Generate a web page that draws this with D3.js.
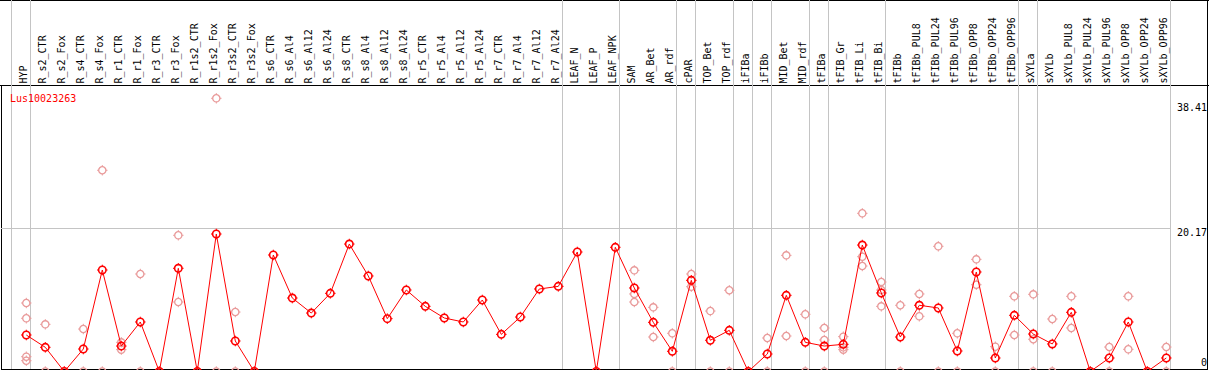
<!DOCTYPE html>
<html><head><meta charset="utf-8">
<script src="https://cdn.jsdelivr.net/npm/d3@7"></script>
<style>
html,body{margin:0;padding:0;background:#fff;}
svg{display:block;}
text{font-family:"DejaVu Sans Mono",monospace;font-size:10px;}
</style></head>
<body>
<script>
const geneName = "Lus10023263";
const categories = ["HYP","R_s2_CTR","R_s2_Fox","R_s4_CTR","R_s4_Fox","R_r1_CTR","R_r1_Fox","R_r3_CTR","R_r3_Fox","R_r1s2_CTR","R_r1s2_Fox","R_r3s2_CTR","R_r3s2_Fox","R_s6_CTR","R_s6_Al4","R_s6_Al12","R_s6_Al24","R_s8_CTR","R_s8_Al4","R_s8_Al12","R_s8_Al24","R_r5_CTR","R_r5_Al4","R_r5_Al12","R_r5_Al24","R_r7_CTR","R_r7_Al4","R_r7_Al12","R_r7_Al24","LEAF_N","LEAF_P","LEAF_NPK","SAM","AR_Bet","AR_rdf","cPAR","TOP_Bet","TOP_rdf","iFIBa","iFIBb","MID_Bet","MID_rdf","tFIBa","tFIB_Gr","tFIB_Li","tFIB_Bi","tFIBb","tFIBb_PUL8","tFIBb_PUL24","tFIBb_PUL96","tFIBb_OPP8","tFIBb_OPP24","tFIBb_OPP96","sXYLa","sXYLb","sXYLb_PUL8","sXYLb_PUL24","sXYLb_PUL96","sXYLb_OPP8","sXYLb_OPP24","sXYLb_OPP96"];
const means = [5.13,3.40,0,3.16,14.27,3.58,6.96,0,14.51,0,19.33,4.29,0,16.38,10.33,8.22,10.99,17.92,13.43,7.43,11.46,9.16,7.52,6.96,10.05,5.22,7.66,11.60,11.97,16.80,0,17.46,11.74,6.91,2.84,12.82,4.39,5.79,0,2.46,10.71,4.10,3.58,3.82,17.78,11.04,4.85,9.31,8.93,2.88,13.99,1.90,7.90,5.27,3.87,8.32,0,1.90,6.96,0,1.90];
const replicates = [[9.63,7.48,2.08,1.52],[6.63,0],[0],[5.97,0],[28.29,0],[4.10,3.07],[13.71,0],[0],[19.15,9.77],[0],[38.41,0],[8.36,0],[0],[],[],[],[],[],[],[],[],[],[],[],[],[],[],[],[],[],[],[],[14.22,10.9,9.77],[9.02,4.85],[5.37,0],[13.71,11.92],[8.5,0],[11.42,0],[0],[4.71,0],[16.33,4.99],[8.04,0],[6.12,4.43,0],[4.9,3.4,3.07],[22.24,16.14,14.83],[12.58,11.46,9.16],[9.31,0],[10.9,7.76],[17.6,0],[5.37,0],[15.77,12.2],[3.49,0],[10.57,5.13],[10.85,4.53,0],[7.38,0],[10.57,6.12],[0],[3.44,0],[10.57,3.12],[0],[3.44,0]];
const groupSizes = [1,28,3,3,1,2,1,1,2,1,3,7,1,7];
const yTicks = [0, 20.17, 38.41];

const W = 1209, H = 370;
const svg = d3.select("body").append("svg").attr("width", W).attr("height", H);

const x = d3.scaleBand().domain(categories).range([11, 11 + 19 * categories.length]).paddingInner(0).paddingOuter(0);
const px = c => x(c) + 15.3;
const y = d3.scaleLinear().domain([0, 38.41]).range([371.5, 98.3]);

// frame
svg.append("line").attr("x1",0).attr("x2",W).attr("y1",0.5).attr("y2",0.5).attr("stroke","#000");
svg.append("line").attr("x1",0).attr("x2",W).attr("y1",85.5).attr("y2",85.5).attr("stroke","#000");
svg.append("line").attr("x1",1.5).attr("x2",1.5).attr("y1",85).attr("y2",H).attr("stroke","#000");
svg.append("line").attr("x1",W-1.5).attr("x2",W-1.5).attr("y1",0).attr("y2",H).attr("stroke","#000");

// group separators
let acc = 0;
const seps = [0];
groupSizes.forEach(s => { acc += s; seps.push(acc); });
const sepX = i => (i < categories.length ? x(categories[i]) : x(categories[categories.length-1]) + x.bandwidth()) + 0.5;
svg.append("g").selectAll("line").data(seps).join("line")
  .attr("x1", sepX).attr("x2", sepX)
  .attr("y1", 0).attr("y2", H).attr("stroke", "#c4c4c4").attr("stroke-width", 1);

// horizontal grid at middle tick
svg.append("g").selectAll("line").data(yTicks.filter(v => v > 0 && v < 38.41)).join("line")
  .attr("x1", 1).attr("x2", x(categories[categories.length-1]) + x.bandwidth() + 1)
  .attr("y1", v => Math.round(y(v)) + 0.5).attr("y2", v => Math.round(y(v)) + 0.5)
  .attr("stroke", "#c4c4c4");

// bottom line
svg.append("line").attr("x1",1).attr("x2",W-1).attr("y1",369.5).attr("y2",369.5).attr("stroke","#000");

// column labels
svg.append("g").selectAll("text").data(categories).join("text")
  .attr("transform", c => `translate(${Math.round(px(c) + 1.7) - 0.57},83.5) rotate(-90)`)
  .attr("fill", "#000").text(c => c);

// right axis labels
svg.append("g").selectAll("text").data(yTicks).join("text")
  .attr("x", 1207).attr("text-anchor", "end")
  .attr("y", (v, i) => y(v) + (v === 0 ? -5.5 : (i === yTicks.length - 1 ? 12.7 : 8)))
  .attr("fill", "#000").text(v => v === 0 ? "0" : v.toFixed(2));

// gene name
svg.append("text").attr("x", 10).attr("y", 101.5).attr("fill", "#ff0000").text(geneName);

function marker(g, r, color, sw) {
  g.append("circle").attr("r", r).attr("fill", "none").attr("stroke", color).attr("stroke-width", sw);
  [[0,-1],[0,1],[-1,0],[1,0]].forEach(([dx,dy]) => {
    g.append("line").attr("x1", dx*(r)).attr("y1", dy*(r)).attr("x2", dx*(r+1.6)).attr("y2", dy*(r+1.6))
      .attr("stroke", color).attr("stroke-width", 1);
  });
}

const plot = svg.append("g");
// replicate points
const repData = [];
replicates.forEach((arr, i) => arr.forEach(v => repData.push({c: categories[i], v})));
plot.append("g").selectAll("g").data(repData).join("g")
  .attr("transform", d => `translate(${px(d.c)},${y(d.v)})`)
  .each(function() { marker(d3.select(this), 3.6, "#e99a9a", 1.3); });

// mean line
const line = d3.line().x((d, i) => px(categories[i])).y(d => y(d));
plot.append("path").datum(means).attr("d", line).attr("fill", "none").attr("stroke", "#ff0000").attr("stroke-width", 1);

plot.append("g").selectAll("g").data(means).join("g")
  .attr("transform", (d, i) => `translate(${px(categories[i])},${y(d)})`)
  .each(function() { marker(d3.select(this), 3.7, "#ff0000", 1.6); });
</script>
</body></html>
